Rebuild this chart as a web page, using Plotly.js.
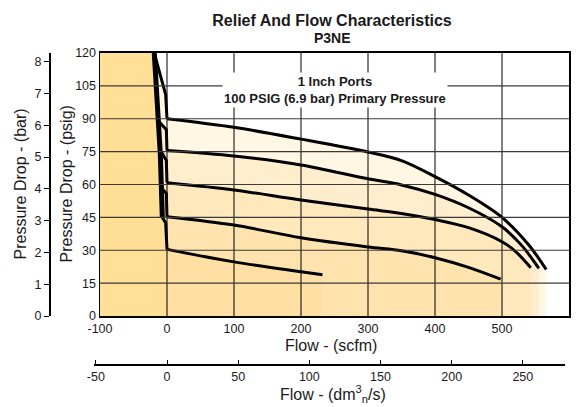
<!DOCTYPE html>
<html>
<head>
<meta charset="utf-8">
<script src="https://cdn.plot.ly/plotly-3.0.1.min.js"></script>
<style>html,body{margin:0;padding:0;background:#fff;}#chart{width:579px;height:407px;}</style>
</head>
<body>
<div id="chart"></div>
<script>
// ---- data (flow in scfm, pressure drop in psig) ----
const scfmTicks = [-100, 0, 100, 200, 300, 400, 500, 600];
const psigTicks = [0, 15, 30, 45, 60, 75, 90, 105, 120];
const barTicks = [0, 1, 2, 3, 4, 5, 6, 7, 8];
const dmTicks = [-50, 0, 50, 100, 150, 200, 250];

// steep relief line
const steepFlow = [-19, -10, -7];
const steepPsig = [120, 74, 45];

// region left of the relief line
const leftFlow = [-100, -100, -19, -10, -7, -2, 0, 0];
const leftPsig = [0, 120, 120, 74, 45, 42.5, 30.4, 0];

// curves (set pressures 90, 75, 60, 45, 30 psig)
const flow90 = [-19, -2, 0, 100, 200, 300, 350, 400, 450, 500, 540, 566];
const psig90 = [120, 101, 90, 86.1, 80.7, 74.8, 70.9, 63.6, 55.2, 45, 32.4, 21.2];

const flow75 = [-19, -12.9, -1, 0, 100, 200, 300, 350, 400, 450, 500, 530, 555];
const psig75 = [120, 89, 85, 75.5, 73, 68.9, 62.6, 59.8, 55.5, 49.4, 40.7, 32, 21.7];

const flow60 = [-19, -10.4, -1, 0, 100, 200, 300, 350, 400, 450, 500, 520, 543];
const psig60 = [120, 75.8, 71, 60.8, 57.5, 52.9, 48.8, 46.8, 44, 40.3, 33.9, 29.5, 22];

const flow45 = [-19, -10, -8.4, -1, 0, 100, 200, 300, 350, 400, 450, 498];
const psig45 = [120, 74, 58.4, 56, 45.3, 41.5, 35.7, 31.5, 29.8, 26.6, 22.2, 16.8];

const flow30 = [-19, -10, -7, -2, 0, 100, 200, 232];
const psig30 = [120, 74, 45, 42.5, 30.4, 24.7, 20.2, 18.8];

const PSI_PER_BAR = 14.5038;
const DM3S_PER_SCFM = 0.4719;

// ---- build ----
const curves = [[flow90, psig90], [flow75, psig75], [flow60, psig60], [flow45, psig45], [flow30, psig30]];
const traces = [];

curves.forEach(([fx, fy]) => {
  traces.push({x: fx, y: fy, type: 'scatter', mode: 'lines', fill: 'tozeroy',
    fillcolor: 'rgba(255,210,120,0.2)', line: {width: 0, color: 'rgba(0,0,0,0)'}, hoverinfo: 'skip'});
});
traces.push({x: leftFlow, y: leftPsig, type: 'scatter', mode: 'lines', fill: 'toself',
  fillcolor: '#FFE096', line: {width: 0, color: 'rgba(0,0,0,0)'}, hoverinfo: 'skip'});
curves.forEach(([fx, fy]) => {
  const i0 = fx.findIndex(v => v >= 0);
  // relief-side (straight) segment
  traces.push({x: fx.slice(0, i0 + 1), y: fy.slice(0, i0 + 1), type: 'scatter', mode: 'lines',
    line: {width: 3, color: '#000'}, hoverinfo: 'skip'});
  // flow segment (smooth)
  traces.push({x: fx.slice(i0), y: fy.slice(i0), type: 'scatter', mode: 'lines',
    line: {width: 3, color: '#000', shape: 'spline', smoothing: 0.9}, hoverinfo: 'skip'});
});
traces.push({x: steepFlow, y: steepPsig, type: 'scatter', mode: 'lines', line: {width: 5, color: '#000'}, hoverinfo: 'skip'});
// secondary axes carriers
traces.push({x: [null], y: [null], yaxis: 'y2', type: 'scatter', mode: 'markers', hoverinfo: 'skip'});
traces.push({x: [null], y: [null], xaxis: 'x2', type: 'scatter', mode: 'markers', hoverinfo: 'skip'});

const xMin = scfmTicks[0], xMax = scfmTicks[scfmTicks.length - 1];
const yMin = psigTicks[0], yMax = psigTicks[psigTicks.length - 1];

const shapes = [];
scfmTicks.filter(v => v > xMin && v < xMax).forEach(v => shapes.push({
  type: 'line', xref: 'x', yref: 'y', x0: v, x1: v, y0: yMin, y1: yMax,
  line: {color: '#000', width: 1}, layer: 'above'}));
psigTicks.filter(v => v > yMin && v < yMax).forEach(v => shapes.push({
  type: 'line', xref: 'x', yref: 'y', x0: xMin, x1: xMax, y0: v, y1: v,
  line: {color: '#3a3a3a', width: 1.2}, layer: 'above'}));

const FONT = 'Liberation Sans, Arial, Helvetica, sans-serif';
const TXT = '#1a1a1a';
const lbl = arr => arr.map(v => String(v));

const layout = {
  width: 579, height: 407,
  margin: {l: 49, r: 10, t: 53, b: 43, pad: 0},
  paper_bgcolor: '#ffffff', plot_bgcolor: 'rgba(0,0,0,0)',
  font: {family: FONT, size: 12.5, color: TXT},
  showlegend: false,
  title: {text: '<b>Relief And Flow Characteristics</b>', font: {family: FONT, size: 16, color: TXT},
    xref: 'container', yref: 'container', x: 332 / 579, xanchor: 'center', y: 1 - 20 / 407, yanchor: 'middle'},
  xaxis: {domain: [51 / 520, 1], range: [xMin, xMax], tickvals: scfmTicks, ticktext: lbl(scfmTicks), ticks: '',
    showline: true, linewidth: 2, linecolor: '#000', mirror: true, showgrid: false, zeroline: false, anchor: 'y',
    tickfont: {size: 12.5, color: TXT}},
  yaxis: {domain: [48 / 311, 1], range: [yMin, yMax], tickvals: psigTicks, ticktext: lbl(psigTicks), ticks: '',
    showline: true, linewidth: 1.5, linecolor: '#000', mirror: true, showgrid: false, zeroline: false, anchor: 'x',
    tickfont: {size: 12.5, color: TXT}},
  xaxis2: {domain: [45 / 520, 516 / 520], range: [-51.3, xMax * DM3S_PER_SCFM - 3.5], tickvals: dmTicks,
    ticktext: lbl(dmTicks), anchor: 'free', position: 0, ticks: 'inside', ticklen: 4, tickcolor: '#000',
    showline: true, linewidth: 1.5, linecolor: '#000', showgrid: false, zeroline: false,
    tickfont: {size: 12.5, color: TXT}},
  yaxis2: {overlaying: 'y', anchor: 'free', position: 0, side: 'left', range: [0, yMax / PSI_PER_BAR],
    tickvals: barTicks, ticktext: lbl(barTicks), ticks: 'outside', ticklen: 5, tickcolor: '#000', showline: true,
    linewidth: 1.5, linecolor: '#000', showgrid: false, zeroline: false, tickfont: {size: 12.5, color: TXT}},
  shapes: shapes,
  annotations: [
    {text: '<b>P3NE</b>', xref: 'paper', yref: 'paper', x: (332 - 49) / 520, y: (364 - 38) / 311,
      xanchor: 'center', yanchor: 'middle', showarrow: false, font: {size: 14, color: TXT}},
    {text: '<b>1 Inch Ports<br>100 PSIG (6.9 bar) Primary Pressure</b>', xref: 'x', yref: 'y', x: 250, y: 103.2,
      xanchor: 'center', yanchor: 'middle', showarrow: false, bgcolor: '#ffffff', borderpad: 1,
      font: {size: 13, color: TXT}, align: 'center'},
    {text: 'Flow - (scfm)', xref: 'paper', yref: 'paper', x: (330.5 - 49) / 520, y: (364 - 345) / 311,
      xanchor: 'center', yanchor: 'middle', showarrow: false, font: {size: 16, color: TXT}},
    {text: 'Flow - (dm<sup>3</sup><sub>n</sub>/s)', xref: 'paper', yref: 'paper', x: (333 - 49) / 520, y: (364 - 394) / 311,
      xanchor: 'center', yanchor: 'middle', showarrow: false, font: {size: 16, color: TXT}},
    {text: 'Pressure Drop - (psig)', xref: 'paper', yref: 'paper', x: (66 - 49) / 520, y: (364 - 184.5) / 311,
      xanchor: 'center', yanchor: 'middle', textangle: -90, showarrow: false, font: {size: 16, color: TXT}},
    {text: 'Pressure Drop - (bar)', xref: 'paper', yref: 'paper', x: (20 - 49) / 520, y: (364 - 184.5) / 311,
      xanchor: 'center', yanchor: 'middle', textangle: -90, showarrow: false, font: {size: 16, color: TXT}}
  ]
};

Plotly.newPlot('chart', traces, layout, {staticPlot: true, displayModeBar: false});
</script>
</body>
</html>
